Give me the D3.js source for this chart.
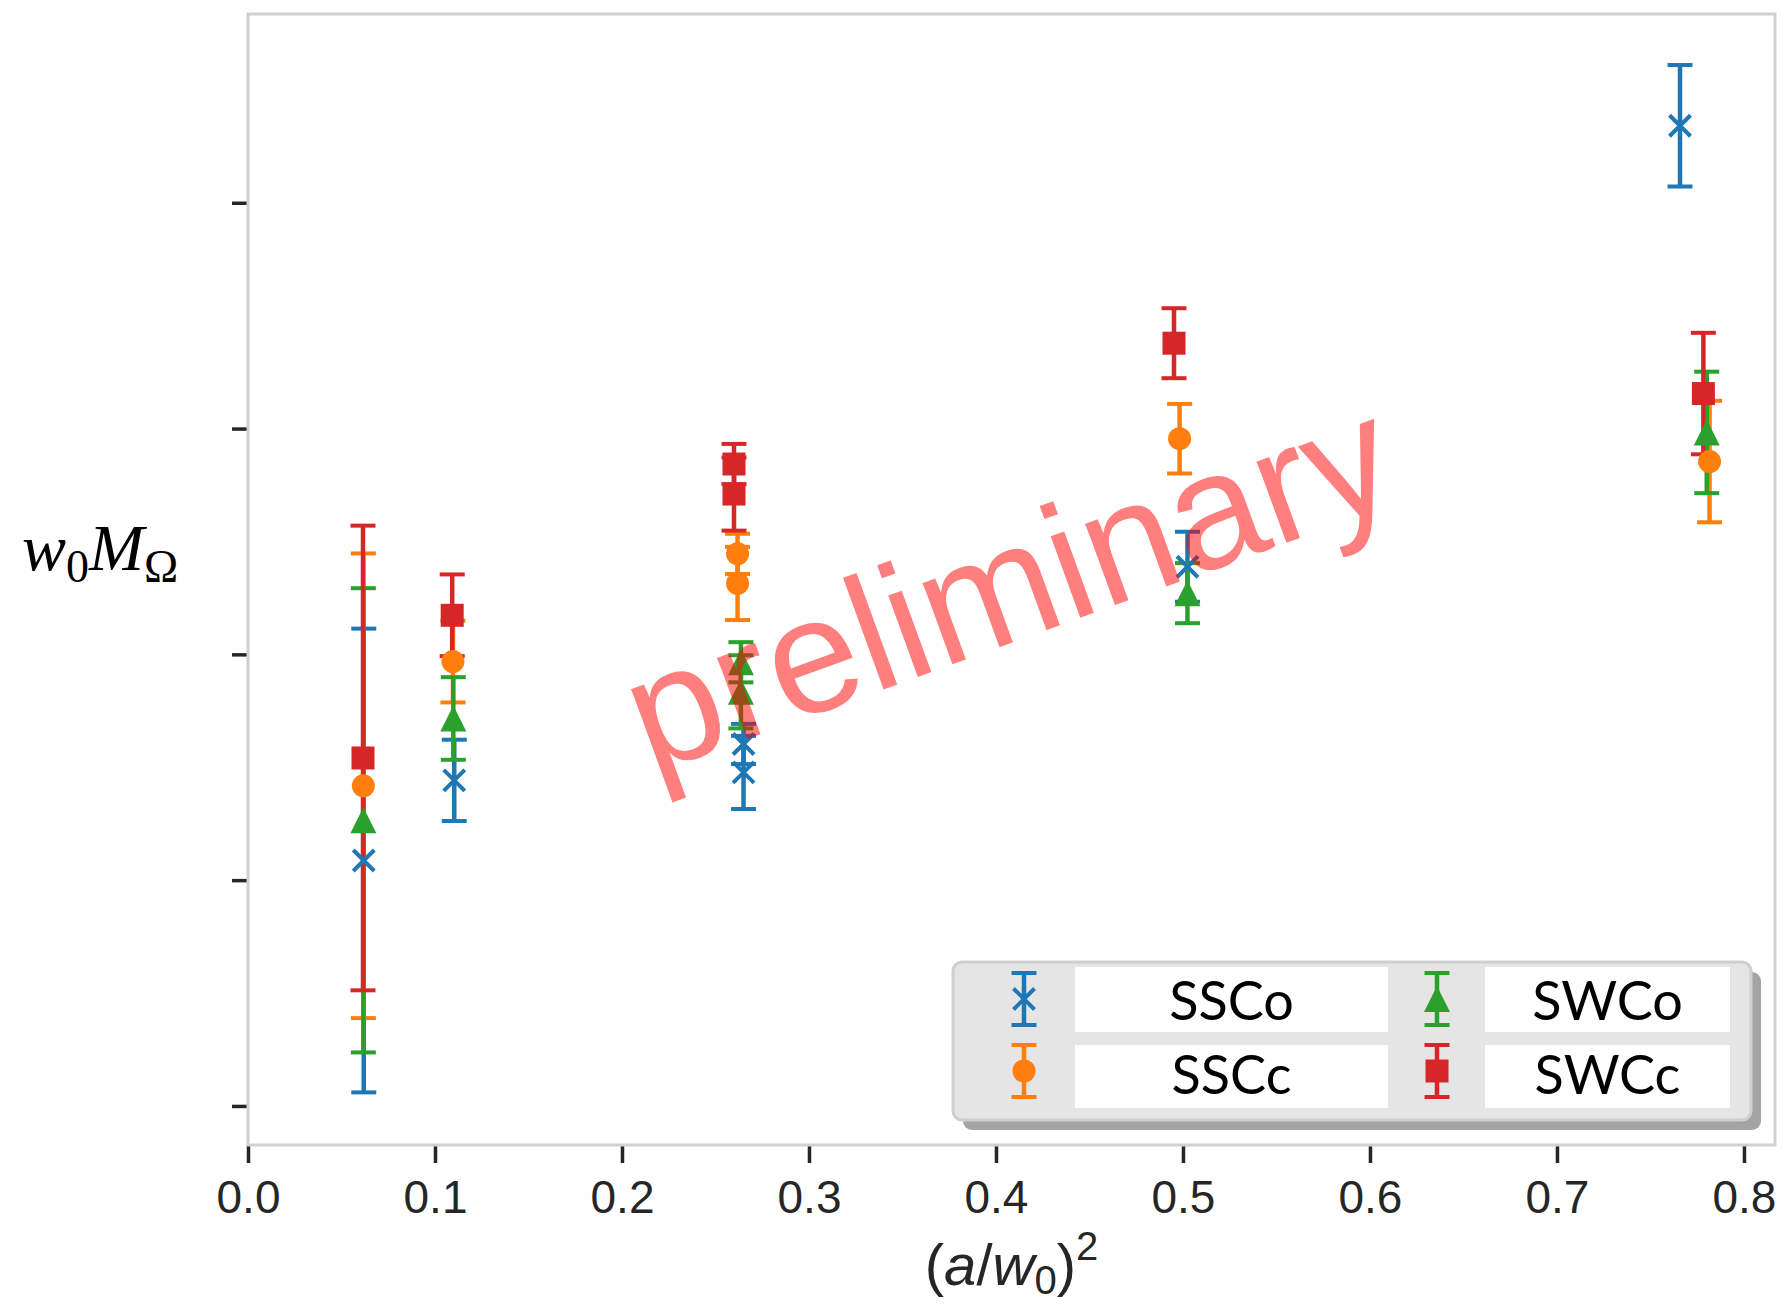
<!DOCTYPE html>
<html>
<head>
<meta charset="utf-8">
<script src="https://cdn.jsdelivr.net/npm/d3@7"></script>
<style>
  body { margin: 0; background: #fff; }
</style>
</head>
<body>
<script>
// data (y in arbitrary units, ticks carry no labels)
const seriesNames = ['SSCo', 'SSCc', 'SWCo', 'SWCc'];
const seriesColors = ['#1f77b4', '#ff7f0e', '#2ca02c', '#d62728'];
const seriesShapes = ['x', 'circle', 'triangle', 'square'];

const xSSCo = [0.0619, 0.1103, 0.2650, 0.2650, 0.5024, 0.7658];
const ySSCo = [1.087, 1.442, 1.603, 1.477, 2.388, 4.341];
const eSSCo = [1.027, 0.180, 0.089, 0.162, 0.155, 0.269];

const xSSCc = [0.0617, 0.1096, 0.2618, 0.2618, 0.4982, 0.7816];
const ySSCc = [1.418, 1.968, 2.445, 2.314, 2.955, 2.854];
const eSSCc = [1.029, 0.181, 0.089, 0.162, 0.154, 0.269];

const xSWCo = [0.0617, 0.1098, 0.2636, 0.2636, 0.5024, 0.7801];
const ySWCo = [1.265, 1.716, 1.965, 1.834, 2.271, 2.983];
const eSWCo = [1.028, 0.183, 0.089, 0.162, 0.133, 0.269];

const xSWCc = [0.0615, 0.1092, 0.2599, 0.2599, 0.4952, 0.7783];
const ySWCc = [1.541, 2.173, 2.843, 2.710, 3.378, 3.155];
const eSWCc = [1.029, 0.181, 0.089, 0.162, 0.155, 0.269];

const xTicks = [0, 0.1, 0.2, 0.3, 0.4, 0.5, 0.6, 0.7, 0.8];
const yTicks = [0, 1, 2, 3, 4];

const xData = [xSSCo, xSSCc, xSWCo, xSWCc];
const yData = [ySSCo, ySSCc, ySWCo, ySWCc];
const eData = [eSSCo, eSSCc, eSWCo, eSWCc];

// set the dimensions and margins of the graph
const width = 1782,
    height = 1304;
const margin = { top: 14, right: 7, bottom: 159, left: 248 };

const svg = d3.select('body')
    .append('svg')
    .attr('width', width)
    .attr('height', height);

const x = d3.scaleLinear()
    .domain([0, 0.8166])
    .range([margin.left, width - margin.right]);

const y = d3.scaleLinear()
    .domain([-0.173, 4.836])
    .range([height - margin.bottom, margin.top]);

// points table built from the arrays
const points = [];
seriesNames.forEach(function (name, s) {
    xData[s].forEach(function (xv, i) {
        points.push({ s: s, x: xv, y: yData[s][i], e: eData[s][i] });
    });
});

// axes
const xAxis = svg.append('g')
    .attr('transform', 'translate(0,' + (height - margin.bottom) + ')')
    .call(d3.axisBottom(x).tickValues(xTicks).tickFormat(d3.format('.1f')).tickSize(18).tickPadding(17));

const yAxis = svg.append('g')
    .attr('transform', 'translate(' + margin.left + ',0)')
    .call(d3.axisLeft(y).tickValues(yTicks).tickFormat('').tickSize(16));

[xAxis, yAxis].forEach(function (g) {
    g.select('.domain').remove();
    g.selectAll('.tick line').attr('stroke', '#262626').attr('stroke-width', 3.5);
    g.selectAll('.tick text')
        .attr('fill', '#262626')
        .style('font-family', '"Liberation Sans", Arial, sans-serif')
        .style('font-size', '46px');
});

// axis labels
const xLabel = svg.append('text')
    .attr('x', (x.range()[0] + x.range()[1]) / 2)
    .attr('y', 1285)
    .attr('text-anchor', 'middle')
    .attr('fill', '#262626')
    .style('font-family', '"Liberation Sans", Arial, sans-serif')
    .style('font-size', '58px');
xLabel.append('tspan').text('(');
xLabel.append('tspan').style('font-style', 'italic').text('a');
xLabel.append('tspan').text('/');
xLabel.append('tspan').style('font-style', 'italic').text('w');
xLabel.append('tspan').attr('dy', 9).style('font-size', '40px').text('0');
xLabel.append('tspan').attr('dy', -9).text(')');
xLabel.append('tspan').attr('dy', -25).style('font-size', '40px').text('2');

const yLabel = svg.append('text')
    .attr('x', 22)
    .attr('y', 570)
    .attr('fill', '#000')
    .style('font-family', '"Liberation Serif", "DejaVu Serif", serif')
    .style('font-size', '66px');
yLabel.append('tspan').style('font-style', 'italic').text('w');
yLabel.append('tspan').attr('dy', 12).style('font-size', '46px').text('0');
yLabel.append('tspan').attr('dy', -12).style('font-style', 'italic').text('M');
yLabel.append('tspan').attr('dy', 12).style('font-size', '46px').text('Ω');

// marker shapes
function markerPath(shape) {
    if (shape === 'square') return 'M-11.5,-11.5H11.5V11.5H-11.5Z';
    if (shape === 'triangle') return 'M0,-13L13,13H-13Z';
    if (shape === 'x') return 'M-10.5,-10.5L10.5,10.5M-10.5,10.5L10.5,-10.5';
    return d3.symbol(d3.symbolCircle, Math.PI * 11.5 * 11.5)();
}

function drawMarker(g, shape, color) {
    const p = g.append('path').attr('d', markerPath(shape));
    if (shape === 'x') p.attr('fill', 'none').attr('stroke', color).attr('stroke-width', 4);
    else p.attr('fill', color);
}

// error bars first, markers above them
const bars = svg.append('g');
points.forEach(function (d) {
    const c = seriesColors[d.s];
    bars.append('line')
        .attr('x1', x(d.x)).attr('x2', x(d.x))
        .attr('y1', y(d.y - d.e)).attr('y2', y(d.y + d.e))
        .attr('stroke', c).attr('stroke-width', 4.5);
    [d.y - d.e, d.y + d.e].forEach(function (v) {
        bars.append('line')
            .attr('x1', x(d.x) - 12.5).attr('x2', x(d.x) + 12.5)
            .attr('y1', y(v)).attr('y2', y(v))
            .attr('stroke', c).attr('stroke-width', 4);
    });
});

const marks = svg.append('g');
points.forEach(function (d) {
    const g = marks.append('g').attr('transform', 'translate(' + x(d.x) + ',' + y(d.y) + ')');
    drawMarker(g, seriesShapes[d.s], seriesColors[d.s]);
});

// frame
svg.append('rect')
    .attr('x', margin.left).attr('y', margin.top)
    .attr('width', width - margin.right - margin.left)
    .attr('height', height - margin.bottom - margin.top)
    .attr('fill', 'none')
    .attr('stroke', '#d0d0d0')
    .attr('stroke-width', 3);

// legend
const legend = svg.append('g');
const lx = 953, ly = 962, lw = 798, lh = 158;
legend.append('rect')
    .attr('x', lx + 10).attr('y', ly + 10).attr('width', lw).attr('height', lh)
    .attr('rx', 9).attr('fill', '#a4a4a4');
legend.append('rect')
    .attr('x', lx).attr('y', ly).attr('width', lw).attr('height', lh)
    .attr('rx', 9).attr('fill', '#e5e5e5')
    .attr('stroke', '#cfcfcf').attr('stroke-width', 3);

const legCol = [{ mx: 1024, bx: 1075, bw: 313 }, { mx: 1437, bx: 1485, bw: 245 }];
const legRow = [{ my: 999, by: 967, bh: 65, ty: 1020 }, { my: 1071, by: 1045, bh: 63, ty: 1094 }];

seriesNames.forEach(function (name, s) {
    const col = legCol[Math.floor(s / 2)];
    const row = legRow[s % 2];
    const c = seriesColors[s];
    legend.append('rect')
        .attr('x', col.bx).attr('y', row.by).attr('width', col.bw).attr('height', row.bh)
        .attr('fill', '#fff');
    legend.append('text')
        .attr('x', col.bx + col.bw / 2)
        .attr('y', row.ty)
        .attr('text-anchor', 'middle')
        .attr('fill', '#000')
        .style('font-family', 'Lato, "Noto Sans", sans-serif')
        .style('font-size', '54px')
        .text(name);
    const g = legend.append('g').attr('transform', 'translate(' + col.mx + ',' + row.my + ')');
    g.append('line').attr('y1', -26).attr('y2', 26).attr('stroke', c).attr('stroke-width', 4.5);
    [-26, 26].forEach(function (v) {
        g.append('line').attr('x1', -12.5).attr('x2', 12.5).attr('y1', v).attr('y2', v)
            .attr('stroke', c).attr('stroke-width', 4);
    });
    drawMarker(g, seriesShapes[s], c);
});

// watermark
svg.append('text')
    .attr('transform', 'translate(1008,584) rotate(-20)')
    .attr('text-anchor', 'middle')
    .attr('dominant-baseline', 'central')
    .attr('fill', 'red')
    .attr('fill-opacity', 0.5)
    .style('font-family', '"Liberation Sans", Arial, sans-serif')
    .style('font-size', '164px')
    .text('preliminary');
</script>
</body>
</html>
